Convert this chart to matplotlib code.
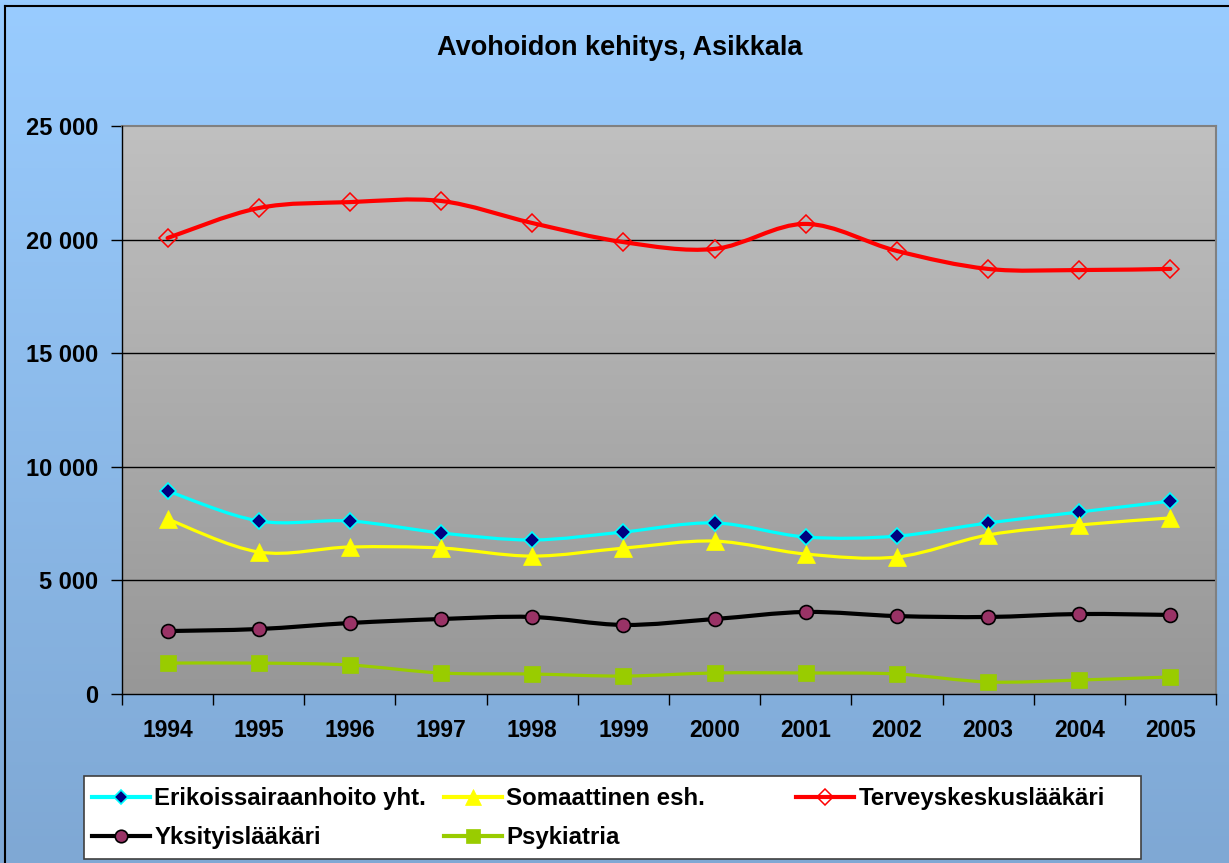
import numpy as np
import matplotlib
matplotlib.use("Agg")
import matplotlib.pyplot as plt
from matplotlib.path import Path
from matplotlib.patches import PathPatch, Rectangle
from matplotlib.lines import Line2D
from matplotlib.colors import LinearSegmentedColormap
from matplotlib.ticker import FuncFormatter

plt.rcParams['font.family'] = ['Liberation Sans', 'DejaVu Sans']
plt.rcParams['font.weight'] = 'bold'

years = ['1994', '1995', '1996', '1997', '1998', '1999',
         '2000', '2001', '2002', '2003', '2004', '2005']
erikois = [8935, 7615, 7615, 7090, 6780, 7130, 7530, 6910, 6950, 7530, 8010, 8490]
somaat = [7700, 6250, 6470, 6425, 6070, 6420, 6730, 6160, 6030, 7000, 7440, 7750]
terveys = [20070, 21390, 21650, 21700, 20730, 19890, 19590, 20690, 19500, 18710, 18660, 18710]
yksit = [2770, 2860, 3125, 3300, 3390, 3040, 3300, 3610, 3430, 3390, 3520, 3480]
psyk = [1360, 1360, 1275, 925, 880, 790, 925, 925, 880, 530, 615, 750]
yticks = [0, 5000, 10000, 15000, 20000, 25000]


def smooth_path(xs, ys):
    # excel style smoothed line: bezier segments through the points
    pts = np.column_stack([xs, ys]).astype(float)
    ext = np.vstack([pts[0], pts, pts[-1]])
    verts = [pts[0]]
    codes = [Path.MOVETO]
    for i in range(len(pts) - 1):
        p0, p1, p2, p3 = ext[i], ext[i + 1], ext[i + 2], ext[i + 3]
        verts += [p1 + (p2 - p0) / 6, p2 - (p3 - p1) / 6, p2]
        codes += [Path.CURVE4] * 3
    return Path(verts, codes)


W, H = 1229, 863
fig = plt.figure(figsize=(W / 100, H / 100), dpi=100)

# background gradient of the chart area
bg = fig.add_axes([0, 0, 1, 1], zorder=-10)
bg_cmap = LinearSegmentedColormap.from_list('bg', ['#99CCFF', '#7FA8D4'])
bg.imshow(np.linspace(0, 1, 256).reshape(-1, 1), cmap=bg_cmap, aspect='auto',
          extent=[0, 1, 0, 1])
bg.set_axis_off()
fig.add_artist(Line2D([5 / W, 5 / W], [0, 1 - 6 / H], color='black', lw=1.5))
fig.add_artist(Line2D([5 / W, 1], [1 - 6 / H, 1 - 6 / H], color='black', lw=1.5))

ax = fig.add_axes([122 / W, 1 - 694 / H, (1216 - 122) / W, (694 - 126) / H])
ax.set_facecolor('none')
x = np.arange(len(years))

plot_cmap = LinearSegmentedColormap.from_list('pa', ['#C0C0C0', '#979797'])
ax.imshow(np.linspace(0, 1, 256).reshape(-1, 1), cmap=plot_cmap, aspect='auto',
          extent=[-0.5, len(years) - 0.5, 0, 25000], zorder=0)

for t in yticks[1:-1]:
    ax.axhline(t, color='black', lw=1, zorder=1)

series = [
    (erikois, 'Erikoissairaanhoito yht.', '#00FFFF', 2.3,
     dict(marker='D', markersize=8, markerfacecolor='#000080', markeredgecolor='#00FFFF', markeredgewidth=1.2)),
    (somaat, 'Somaattinen esh.', '#FFFF00', 2.3,
     dict(marker='^', markersize=13, markerfacecolor='#FFFF00', markeredgecolor='#FFFF00', markeredgewidth=0.5)),
    (terveys, 'Terveyskeskuslääkäri', '#FF0000', 3.0,
     dict(marker='D', markersize=8.8, markerfacecolor='none', markeredgecolor='#FF0000', markeredgewidth=1.1)),
    (yksit, 'Yksityislääkäri', '#000000', 3.0,
     dict(marker='o', markersize=10, markerfacecolor='#993366', markeredgecolor='#000000', markeredgewidth=1.2)),
    (psyk, 'Psykiatria', '#99CC00', 2.3,
     dict(marker='s', markersize=11, markerfacecolor='#99CC00', markeredgecolor='#99CC00', markeredgewidth=0.5)),
]

handles = {}
for i, (vals, label, color, lw, mk) in enumerate(series):
    ax.add_patch(PathPatch(smooth_path(x, vals), fill=False, edgecolor=color,
                           lw=lw, zorder=3 + i, capstyle='round', joinstyle='round'))
    ax.plot(x, vals, linestyle='none', zorder=3 + i, clip_on=False, **mk)
    handles[label] = Line2D([], [], color=color, lw=3.0, **mk)

ax.set_xlim(-0.5, len(years) - 0.5)
ax.set_ylim(0, 25000)

ax.set_xticks(np.arange(len(years) + 1) - 0.5)
ax.set_xticklabels([])
ax.set_xticks(x, minor=True)
ax.set_xticklabels(years, minor=True, fontsize=16.5, fontweight='bold')
ax.tick_params(axis='x', which='major', length=8, width=1, direction='out')
ax.tick_params(axis='x', which='minor', length=0, pad=18)

ax.set_yticks(yticks)
ax.yaxis.set_major_formatter(FuncFormatter(lambda v, p: f"{v:,.0f}".replace(",", " ")))
ax.tick_params(axis='y', length=8, width=1, direction='out', pad=9, labelsize=17)
for lab in ax.get_yticklabels():
    lab.set_fontweight('bold')

for side in ['top', 'right']:
    ax.spines[side].set_color('#808080')
    ax.spines[side].set_linewidth(1.5)
for side in ['left', 'bottom']:
    ax.spines[side].set_color('black')
    ax.spines[side].set_linewidth(1)
    ax.spines[side].set_zorder(10)

fig.text(620 / W, 1 - 48 / H, 'Avohoidon kehitys, Asikkala', ha='center', va='center',
         fontsize=19.5, fontweight='bold')

# legend box, excel puts the entries in equal width columns
fig.add_artist(Rectangle((84 / W, 1 - 859 / H), (1141 - 84) / W, (859 - 776) / H,
                         transform=fig.transFigure, facecolor='white',
                         edgecolor='#404040', lw=1.2, zorder=5))
columns = [(92, ['Erikoissairaanhoito yht.', 'Yksityislääkäri']),
           (444, ['Somaattinen esh.', 'Psykiatria']),
           (796, ['Terveyskeskuslääkäri'])]
for xpx, labels in columns:
    leg = fig.legend([handles[l] for l in labels], labels, loc='upper left',
                     bbox_to_anchor=(xpx / W, 1 - 787 / H), frameon=False,
                     borderpad=0, borderaxespad=0, handlelength=2.4,
                     handletextpad=0.2, labelspacing=0.68, markerscale=0.9,
                     prop={'size': 17.3, 'weight': 'bold'})
    leg.set_zorder(6)

fig.savefig('out.png', dpi=100)
